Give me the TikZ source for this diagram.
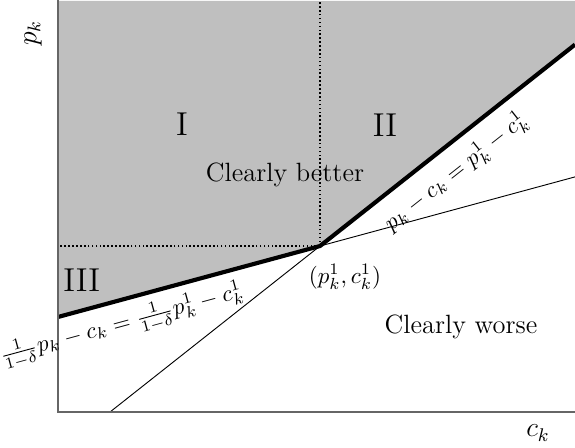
\documentclass[tikz,border=0pt]{standalone}
\usepackage{amsmath,amssymb}
\usetikzlibrary{positioning}
\definecolor{regiongray}{gray}{0.75}
\definecolor{axisgray}{gray}{0.4}

\begin{document}
\begin{tikzpicture}[x=1cm,y=1cm,
    regionlbl/.style={font=\fontsize{11.5}{14}\selectfont},
    numlbl/.style={font=\Large},
    linelbl/.style={font=\normalsize,inner sep=1pt}]
  \useasboundingbox (-0.887,-0.550) rectangle (7.905,6.300);
  % corner points
  \coordinate (O) at (0,0);
  \coordinate (Ytop) at (0,6.300);
  \coordinate (Xend) at (7.905,0);
  \coordinate (P) at (4.006,2.538);
  \coordinate (Pup) at (4.006,6.300);
  \coordinate (Pleft) at (0,2.538);
  \coordinate (Llow) at (0.795,0);
  \coordinate (Lhigh) at (7.905,5.618);
  \coordinate (Sleft) at (0,1.453);
  \coordinate (Sright) at (7.905,3.595);
  % shaded region
  \fill[regiongray] (Sleft) -- (P) -- (Lhigh) -- (7.905,6.285) -- (0,6.285) -- cycle;
  \draw[densely dotted,line width=0.7pt] (P) -- (Pup);
  \draw[densely dotted,line width=0.7pt] (P) -- (Pleft);
  % the two lines through (p,c)
  \draw[line width=0.4pt] (Llow) -- (P);
  \draw[line width=0.4pt] (P) -- (Sright);
  \draw[line width=1.8pt] (Sleft) -- (P) -- (Lhigh);
  \draw[axisgray,line width=0.7pt] (Ytop) -- (O) -- (Xend);
  % labels
  \node[rotate=90,font=\large] (ylab) at (-0.382,5.795) {$p_k$};
  \node[font=\large] (xlab) at (7.339,-0.321) {$c_k$};
  \node[numlbl] (rI) at (1.896,4.404) {I};
  \node[numlbl] (rII) at (5.000,4.388) {II};
  \node[numlbl] (rIII) at (0.362,2.008) {III};
  \node[regionlbl] (better) at (3.471,3.624) {Clearly better};
  \node[regionlbl] (worse) at (6.162,1.300) {Clearly worse};
  \node[linelbl] (plbl) at (4.388,2.064) {$(p^1_k,c^1_k)$};
  \node[linelbl,rotate=38.3] (steeplbl) at (6.086,3.670) {$p_k-c_k=p^1_k-c^1_k$};
  \node[linelbl,rotate=15.2] (flatlbl) at (0.979,1.330)
    {$\frac{1}{1-\delta}p_k-c_k=\frac{1}{1-\delta}p^1_k-c^1_k$};
\end{tikzpicture}
\end{document}
